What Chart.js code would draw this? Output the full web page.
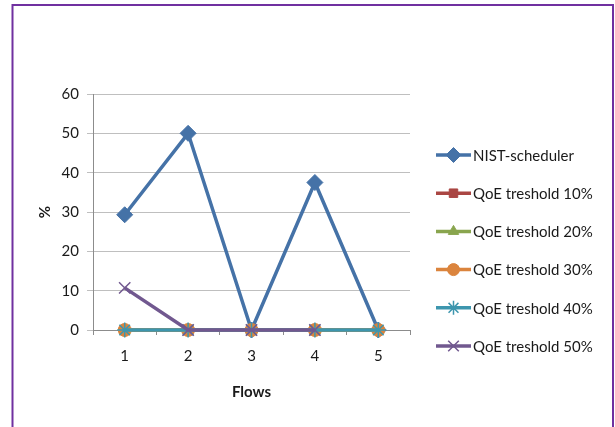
<!DOCTYPE html>
<html>
<head>
<meta charset="utf-8">
<script src="https://cdn.jsdelivr.net/npm/chart.js@4.4.1/dist/chart.umd.min.js"></script>
<style>
  html, body { margin: 0; padding: 0; background: #fff; }
  #wrap { position: relative; width: 615px; height: 427px; }
</style>
</head>
<body>
<div id="wrap"><canvas id="c" width="615" height="427"></canvas></div>
<script>
const categories = ['1', '2', '3', '4', '5'];
const seriesNames = ['NIST-scheduler', 'QoE treshold 10%', 'QoE treshold 20%', 'QoE treshold 30%', 'QoE treshold 40%', 'QoE treshold 50%'];
const nist = [29.3, 50, 0, 37.5, 0];
const qoe10 = [0, 0, 0, 0, 0];
const qoe20 = [0, 0, 0, 0, 0];
const qoe30 = [0, 0, 0, 0, 0];
const qoe40 = [0, 0, 0, 0, 0];
const qoe50 = [10.7, 0, 0, 0, null];
const yTicks = [0, 10, 20, 30, 40, 50, 60];
const xTitle = 'Flows';
const yTitle = '%';

const seriesValues = [nist, qoe10, qoe20, qoe30, qoe40, qoe50];
const colors = ['#4572A7', '#AA4643', '#89A54E', '#DB843D', '#3D96AE', '#71588F'];
const styles = [
  { pointStyle: 'rectRot', radius: 8, bw: 1 },
  { pointStyle: 'rect', radius: 6.5, bw: 1 },
  { pointStyle: 'triangle', radius: 6.5, bw: 1 },
  { pointStyle: 'circle', radius: 6.5, bw: 1 },
  { pointStyle: 'star', radius: 7.5, bw: 1.5 },
  { pointStyle: 'crossRot', radius: 8, bw: 1.5 }
];
const FONT = 'Lato, "Open Sans", "Liberation Sans", sans-serif';

const datasets = seriesValues.map((vals, i) => ({
  label: seriesNames[i],
  data: vals,
  borderColor: colors[i],
  backgroundColor: colors[i],
  borderWidth: 3.5,
  pointStyle: styles[i].pointStyle,
  pointRadius: styles[i].radius,
  pointBorderWidth: styles[i].bw,
  pointBackgroundColor: colors[i],
  pointBorderColor: colors[i],
  tension: 0,
  spanGaps: false,
  clip: false,
  order: seriesValues.length - 1 - i
}));

const framePlugin = {
  id: 'frame',
  afterDraw(chart) {
    const ctx = chart.ctx;
    ctx.save();
    ctx.strokeStyle = '#7030A0';
    ctx.lineWidth = 2;
    ctx.strokeRect(12.5, 5, 600.5, 440);
    ctx.restore();
  }
};

const legendPlugin = {
  id: 'customLegend',
  afterDraw(chart) {
    const ctx = chart.ctx;
    const x0 = chart.chartArea.right + 26;
    const startY = 155;
    const step = 38.2;
    ctx.save();
    chart.data.datasets.forEach((ds, i) => {
      const y = startY + i * step;
      ctx.strokeStyle = ds.borderColor;
      ctx.lineWidth = 3.5;
      ctx.beginPath();
      ctx.moveTo(x0, y);
      ctx.lineTo(x0 + 35, y);
      ctx.stroke();
      ctx.fillStyle = ds.borderColor;
      ctx.strokeStyle = ds.borderColor;
      ctx.lineWidth = ds.pointBorderWidth;
      Chart.helpers.drawPoint(ctx, { pointStyle: ds.pointStyle, radius: ds.pointRadius - 0.5, rotation: 0, borderWidth: ds.pointBorderWidth }, x0 + 17.5, y);
      ctx.fillStyle = '#1a1a1a';
      ctx.font = '15px ' + FONT;
      ctx.textAlign = 'left';
      ctx.textBaseline = 'middle';
      ctx.fillText(ds.label, x0 + 37, y + 1);
    });
    ctx.restore();
  }
};

new Chart(document.getElementById('c'), {
  type: 'line',
  data: { labels: categories, datasets },
  plugins: [framePlugin, legendPlugin],
  options: {
    responsive: false,
    animation: false,
    devicePixelRatio: 1,
    layout: { padding: { left: 20, right: 205, top: 94, bottom: 22 } },
    plugins: { legend: { display: false }, tooltip: { enabled: false } },
    scales: {
      x: {
        offset: true,
        afterFit(s) { s.height = 75; },
        grid: { offset: true, drawOnChartArea: false, drawTicks: true, tickLength: 5, color: '#8c8c8c' },
        border: { display: true, color: '#8c8c8c', width: 1 },
        ticks: { color: '#1a1a1a', font: { family: FONT, size: 15 }, padding: 12 },
        title: { display: true, text: xTitle, color: '#1a1a1a', font: { family: FONT, size: 15, weight: 'bold' }, padding: { top: 6 } }
      },
      y: {
        min: 0,
        max: 60,
        afterFit(s) { s.width = 73; },
        afterBuildTicks(s) { s.ticks = yTicks.map(v => ({ value: v })); },
        grid: { color: '#BFBFBF', lineWidth: 1, drawTicks: true, tickLength: 6 },
        border: { display: true, color: '#8c8c8c', width: 1 },
        ticks: { color: '#1a1a1a', font: { family: FONT, size: 15 }, padding: 8 },
        title: { display: true, text: yTitle, color: '#1a1a1a', font: { family: FONT, size: 15, weight: 'bold' }, padding: { top: 16 } }
      }
    }
  }
});
</script>
</body>
</html>
